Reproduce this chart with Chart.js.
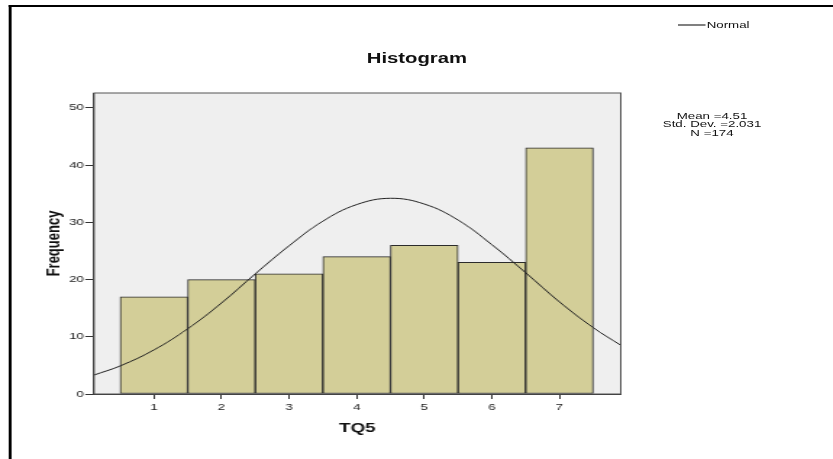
<!DOCTYPE html>
<html>
<head>
<meta charset="utf-8">
<script src="https://cdn.jsdelivr.net/npm/chart.js@4"></script>
<style>
  html, body { margin: 0; padding: 0; background: #fff; width: 833px; height: 459px; overflow: hidden; }
  #wrap { position: absolute; left: 0; top: 0; width: 575px; height: 459px; transform: scaleX(1.4487); transform-origin: 0 0; font-family: "Liberation Sans", Arial, sans-serif; color: #111; }
  #frame { position: absolute; left: 5.7px; top: 5px; width: 700px; height: 600px; border-top: 2px solid #000; border-left: 2px solid #000; box-sizing: border-box; }
  #c { position: absolute; left: 0; top: 0; }
  #title { position: absolute; left: 0; top: 51px; width: 575.6px; text-align: center; font-weight: bold; font-size: 14px; line-height: 14px; }
  #stats { position: absolute; left: 441.5px; top: 111.6px; width: 100px; text-align: center; font-size: 9.2px; line-height: 8.5px; }
  #legline { position: absolute; left: 467.8px; top: 24px; width: 18.8px; height: 2px; background: #808080; }
  #legtext { position: absolute; left: 487.8px; top: 20px; font-size: 9.2px; line-height: 10px; }
</style>
</head>
<body>
<div id="wrap">
  <div id="frame"></div>
  <canvas id="c" width="575" height="459"></canvas>
  <div id="title"></div>
  <div id="stats"></div>
  <div id="legline"></div>
  <div id="legtext"></div>
</div>
<script>
// ---- data ----
const categories = [1, 2, 3, 4, 5, 6, 7];
const frequencies = [17, 20, 21, 24, 26, 23, 43];
const curveX = [0.11, 0.5, 1, 1.5, 2, 2.5, 3, 3.5, 4, 4.5, 5, 5.5, 6, 6.5, 7, 7.5, 7.91];
const curveY = [3.3, 4.9, 7.7, 11.4, 15.9, 21.0, 25.9, 30.2, 33.1, 34.2, 33.2, 30.4, 26.1, 21.2, 16.1, 11.6, 8.5];
const xTicks = [1, 2, 3, 4, 5, 6, 7];
const yTicks = [0, 10, 20, 30, 40, 50];
const statLines = ['Mean =4.51', 'Std. Dev. =2.031', 'N =174'];
const titleText = 'Histogram';
const xTitle = 'TQ5';
const yTitle = 'Frequency';
const legendLabel = 'Normal';

document.getElementById('title').textContent = titleText;
document.getElementById('legtext').textContent = legendLabel;
document.getElementById('stats').innerHTML = statLines.map(s => '<div>' + s + '</div>').join('');

const FONT = '"Liberation Sans", Arial, sans-serif';

const plotBg = {
  id: 'plotBg',
  beforeDraw(chart) {
    const {ctx, chartArea: a} = chart;
    ctx.save();
    ctx.fillStyle = '#efefef';
    ctx.fillRect(a.left, a.top, a.right - a.left, a.bottom - a.top);
    ctx.restore();
  },
  afterDraw(chart) {
    const {ctx, chartArea: a} = chart;
    ctx.save();
    ctx.strokeStyle = '#555';
    ctx.lineWidth = 1;
    ctx.strokeRect(a.left, a.top, a.right - a.left, a.bottom - a.top);
    ctx.restore();
  }
};

new Chart(document.getElementById('c'), {
  data: {
    datasets: [
      {
        type: 'line',
        label: legendLabel,
        data: curveX.map((x, i) => ({x: x, y: curveY[i]})),
        borderColor: '#222',
        borderWidth: 1,
        pointRadius: 0,
        tension: 0.4,
        fill: false,
        order: 0
      },
      {
        type: 'bar',
        label: 'Frequency',
        data: categories.map((c, i) => ({x: c, y: frequencies[i]})),
        backgroundColor: 'rgb(211,206,152)',
        borderColor: '#2b2b2b',
        borderWidth: 1,
        borderSkipped: false,
        barPercentage: 1,
        categoryPercentage: 1,
        order: 1
      }
    ]
  },
  options: {
    responsive: false,
    animation: false,
    devicePixelRatio: 1,
    events: [],
    layout: { padding: { left: 0, top: 93, right: 146.5, bottom: 0 } },
    plugins: { legend: { display: false }, title: { display: false }, tooltip: { enabled: false } },
    scales: {
      x: {
        type: 'linear',
        offset: false,
        min: 0.114,
        max: 7.908,
        afterFit(s) { s.height = 65; },
        afterBuildTicks(s) { s.ticks = xTicks.map(v => ({value: v})); },
        grid: { offset: false, drawOnChartArea: false, drawTicks: true, tickLength: 5, color: '#333', lineWidth: 1 },
        border: { display: true, color: '#333', width: 1 },
        ticks: { autoSkip: false, maxRotation: 0, padding: 3, color: '#222', font: { family: FONT, size: 9.2 }, callback: v => String(v) },
        title: { display: true, text: xTitle, color: '#111', font: { family: FONT, size: 13, weight: 'bold' }, padding: { top: 0, bottom: 23.2 } }
      },
      y: {
        type: 'linear',
        min: 0,
        max: 52.6,
        afterFit(s) { s.width = 64.9; },
        afterBuildTicks(s) { s.ticks = yTicks.map(v => ({value: v})); },
        grid: { drawOnChartArea: false, drawTicks: true, tickLength: 6, color: '#333', lineWidth: 1 },
        border: { display: true, color: '#333', width: 1 },
        ticks: { autoSkip: false, padding: 1, color: '#222', font: { family: FONT, size: 9.2 }, callback: v => String(v) },
        title: { display: true, text: yTitle, color: '#111', font: { family: FONT, size: 13, weight: 'bold' }, padding: { top: 29.5, bottom: 0 } }
      }
    }
  },
  plugins: [plotBg]
});
</script>
</body>
</html>
